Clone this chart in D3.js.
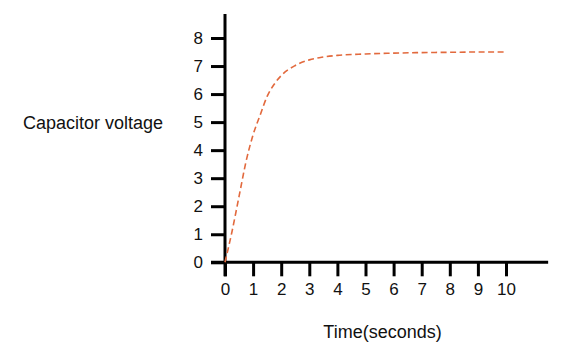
<!DOCTYPE html>
<html><head><meta charset="utf-8">
<script src="https://cdn.jsdelivr.net/npm/d3@7"></script>
<style>
html,body{margin:0;padding:0;background:#fff;}
svg text{font-family:"Liberation Sans",Arial,Helvetica,sans-serif;fill:#111;}
</style></head>
<body>
<svg id="chart" width="580" height="357"></svg>
<script>
const times    = [0, 0.25, 0.5, 0.75, 1, 1.25, 1.5, 1.75, 2, 2.5, 3, 3.5, 4, 5, 6, 7, 8, 9, 10];
const voltages = [0, 1.1, 2.35, 3.6, 4.55, 5.25, 5.92, 6.35, 6.66, 7.02, 7.22, 7.32, 7.38, 7.43, 7.46, 7.48, 7.49, 7.5, 7.5];
const xTicks = [0,1,2,3,4,5,6,7,8,9,10];
const yTicks = [0,1,2,3,4,5,6,7,8];
const xTitle = "Time(seconds)";
const yTitle = "Capacitor voltage";

const svg = d3.select("#chart");
const x = d3.scaleLinear().domain([0,10]).range([225,506]);
const y = d3.scaleLinear().domain([0,8]).range([262.3,38]);

// axes lines
svg.append("line").attr("x1",x(0)-14).attr("x2",x(11.5)).attr("y1",y(0)).attr("y2",y(0))
  .attr("stroke","#000").attr("stroke-width",3);
svg.append("line").attr("x1",x(0)).attr("x2",x(0)).attr("y1",y(8.86)).attr("y2",y(0)+14)
  .attr("stroke","#000").attr("stroke-width",3);

const xa = svg.append("g").attr("transform",`translate(0,${y(0)})`)
  .call(d3.axisBottom(x).tickValues(xTicks).tickSize(14).tickPadding(7).tickFormat(d3.format("d")));
const ya = svg.append("g").attr("transform",`translate(${x(0)},0)`)
  .call(d3.axisLeft(y).tickValues(yTicks).tickSize(14).tickPadding(8).tickFormat(d3.format("d")));
[xa,ya].forEach(g=>{
  g.select(".domain").remove();
  g.selectAll(".tick line").attr("stroke","#000").attr("stroke-width",3);
  g.selectAll(".tick text").attr("font-size",17).attr("font-family","Liberation Sans, Arial, sans-serif").attr("fill","#111");
});

// curve
const line = d3.line().x((d,i)=>x(times[i])).y(d=>y(d)).curve(d3.curveMonotoneX);
svg.append("path").datum(voltages).attr("d",line)
  .attr("fill","none").attr("stroke","#e2693d").attr("stroke-width",1.6)
  .attr("stroke-dasharray","6,3.5");

svg.append("text").attr("x",382.5).attr("y",338).attr("text-anchor","middle")
  .attr("font-size",18).text(xTitle);
svg.append("text").attr("x",23).attr("y",129).attr("text-anchor","start")
  .attr("font-size",18).text(yTitle);
</script>
</body></html>
